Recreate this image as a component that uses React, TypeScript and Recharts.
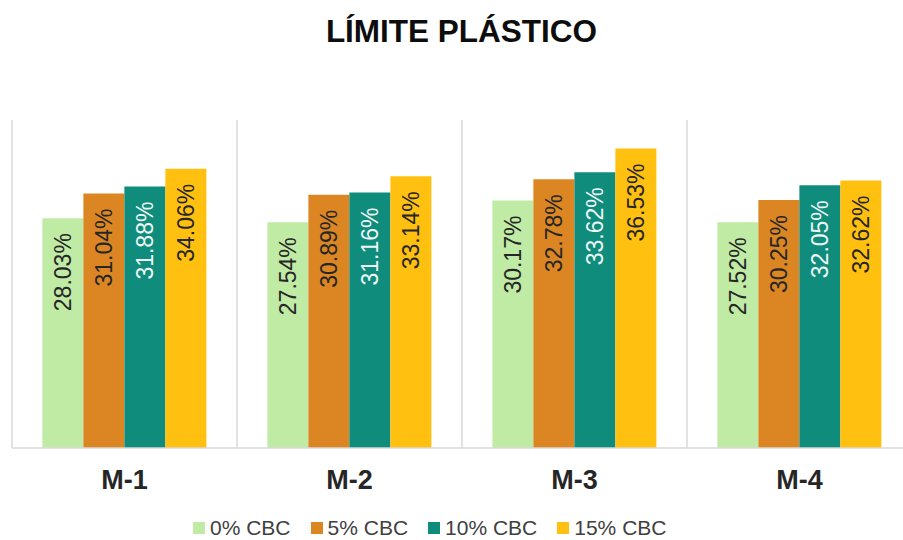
import { BarChart, Bar, XAxis, YAxis, CartesianGrid, Legend, LabelList } from "recharts";

const categories = ["M-1", "M-2", "M-3", "M-4"];
const cbc0 = [28.03, 27.54, 30.17, 27.52];
const cbc5 = [31.04, 30.89, 32.78, 30.25];
const cbc10 = [31.88, 31.16, 33.62, 32.05];
const cbc15 = [34.06, 33.14, 36.53, 32.62];
const separators = [0, 1, 2, 3, 4];

const SERIES = [
  { key: "cbc0", name: "0% CBC", color: "#c0eba5", text: "#262626" },
  { key: "cbc5", name: "5% CBC", color: "#dc8623", text: "#262626" },
  { key: "cbc10", name: "10% CBC", color: "#0f8c7c", text: "#eef7f5" },
  { key: "cbc15", name: "15% CBC", color: "#ffc010", text: "#262626" },
];

const data = categories.map((name, i) => ({
  name,
  pos: i + 0.5,
  cbc0: cbc0[i],
  cbc5: cbc5[i],
  cbc10: cbc10[i],
  cbc15: cbc15[i],
}));

const FONT = '"Liberation Sans", Arial, sans-serif';

const makeLabel = (fill: string) => (props: any) => {
  const { x, y, width, value } = props;
  const cx = x + width / 2;
  const ty = y + 15;
  return (
    <text
      x={cx}
      y={ty}
      transform={`rotate(-90, ${cx}, ${ty})`}
      textAnchor="end"
      dominantBaseline="central"
      fontSize={23}
      fontFamily={FONT}
      fill={fill}
    >
      {`${Number(value).toFixed(2)}%`}
    </text>
  );
};

const CategoryTick = ({ x, y, payload }: any) => (
  <text x={x} y={y + 33} textAnchor="middle" fontSize={27} fontWeight="bold" fontFamily={FONT} fill="#262626">
    {payload.value}
  </text>
);

const LegendContent = () => (
  <div style={{ display: "flex", alignItems: "center", gap: 20, fontFamily: FONT, fontSize: 21, color: "#404040" }}>
    {SERIES.map((s) => (
      <div key={s.key} style={{ display: "flex", alignItems: "center", gap: 5 }}>
        <span style={{ width: 12, height: 12, background: s.color, display: "inline-block" }} />
        <span>{s.name}</span>
      </div>
    ))}
  </div>
);

export default function App() {
  return (
    <div
      style={{
        position: "absolute",
        left: 0,
        top: 0,
        width: 903,
        height: 540,
        overflow: "hidden",
        background: "#fff",
        fontFamily: FONT,
      }}
    >
      <div
        style={{
          position: "absolute",
          top: 16,
          left: 0,
          width: 923,
          textAlign: "center",
          fontSize: 31.5,
          lineHeight: "30px",
          fontWeight: "bold",
          color: "#0d0d0d",
        }}
      >
        LÍMITE PLÁSTICO
      </div>
      <BarChart
        width={925}
        height={540}
        data={data}
        margin={{ top: 120, right: 13, left: 12, bottom: 0 }}
        barCategoryGap="13.5%"
        barGap={0}
      >
        <XAxis
          xAxisId="sep"
          dataKey="pos"
          type="number"
          domain={[0, 4]}
          ticks={separators}
          allowDataOverflow
          hide
        />
        <CartesianGrid xAxisId="sep" horizontal={false} stroke="#d9d9d9" strokeWidth={1.5} />
        <XAxis
          dataKey="name"
          height={92}
          tickLine={false}
          axisLine={{ stroke: "#d9d9d9", strokeWidth: 1.5 }}
          tick={<CategoryTick />}
          interval={0}
        />
        <YAxis hide domain={[0, 40]} />
        <Legend
          verticalAlign="middle"
          align="center"
          layout="horizontal"
          content={<LegendContent />}
          wrapperStyle={{ top: 516, left: 193, width: "auto" }}
        />
        {SERIES.map((s) => (
          <Bar key={s.key} dataKey={s.key} name={s.name} fill={s.color} isAnimationActive={false}>
            <LabelList dataKey={s.key} content={makeLabel(s.text)} />
          </Bar>
        ))}
      </BarChart>
    </div>
  );
}
